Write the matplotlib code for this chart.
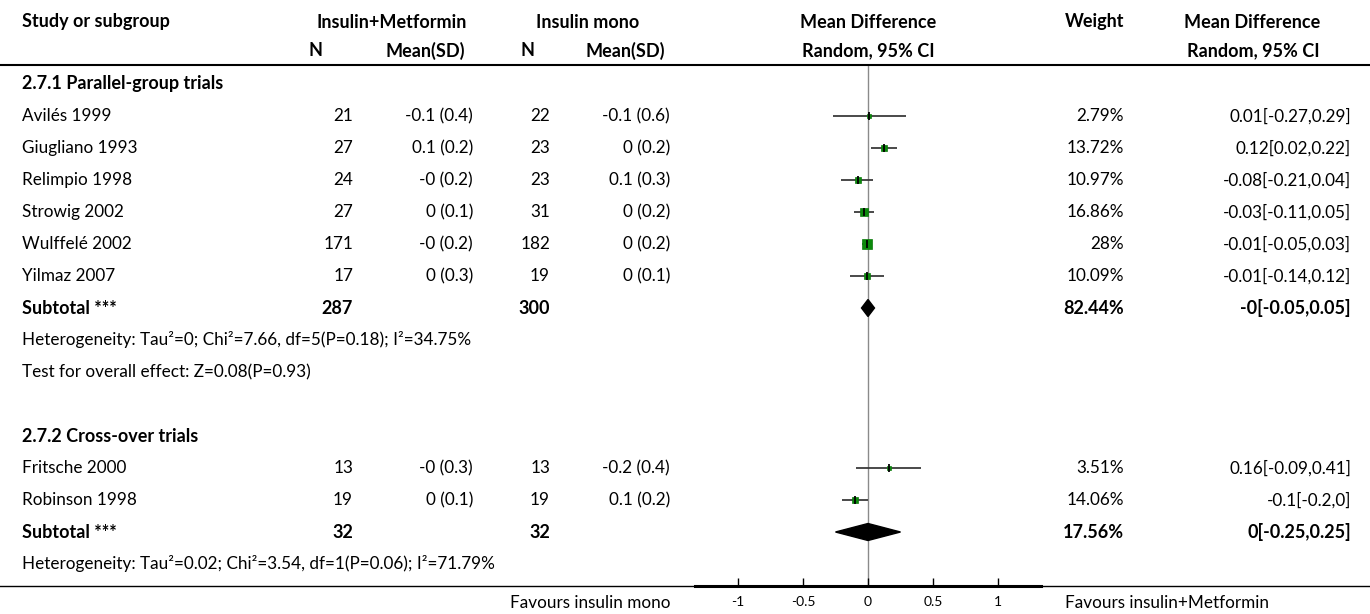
import matplotlib
matplotlib.use("Agg")
import matplotlib.pyplot as plt
from matplotlib.patches import Polygon

plt.rcParams['font.family'] = ['Lato', 'DejaVu Sans']

# ---- data -------------------------------------------------------------
group_titles = ["2.7.1 Parallel-group trials", "2.7.2 Cross-over trials"]

studies_1 = ["Avilés 1999", "Giugliano 1993", "Relimpio 1998", "Strowig 2002",
             "Wulffelé 2002", "Yilmaz 2007"]
n_exp_1 = [21, 27, 24, 27, 171, 17]
mean_exp_1 = ["-0.1 (0.4)", "0.1 (0.2)", "-0 (0.2)", "0 (0.1)", "-0 (0.2)", "0 (0.3)"]
n_ctl_1 = [22, 23, 23, 31, 182, 19]
mean_ctl_1 = ["-0.1 (0.6)", "0 (0.2)", "0.1 (0.3)", "0 (0.2)", "0 (0.2)", "0 (0.1)"]
md_1 = [0.01, 0.12, -0.08, -0.03, -0.01, -0.01]
lo_1 = [-0.27, 0.02, -0.21, -0.11, -0.05, -0.14]
hi_1 = [0.29, 0.22, 0.04, 0.05, 0.03, 0.12]
weight_1 = [2.79, 13.72, 10.97, 16.86, 28, 10.09]
subtotal_1 = [-0.0, -0.05, 0.05]
subtotal_weight_1 = 82.44
subtotal_n_1 = [287, 300]
heterogeneity_1 = "Heterogeneity: Tau²=0; Chi²=7.66, df=5(P=0.18); I²=34.75%"
overall_1 = "Test for overall effect: Z=0.08(P=0.93)"

studies_2 = ["Fritsche 2000", "Robinson 1998"]
n_exp_2 = [13, 19]
mean_exp_2 = ["-0 (0.3)", "0 (0.1)"]
n_ctl_2 = [13, 19]
mean_ctl_2 = ["-0.2 (0.4)", "0.1 (0.2)"]
md_2 = [0.16, -0.1]
lo_2 = [-0.09, -0.2]
hi_2 = [0.41, 0.0]
weight_2 = [3.51, 14.06]
subtotal_2 = [0.0, -0.25, 0.25]
subtotal_weight_2 = 17.56
subtotal_n_2 = [32, 32]
heterogeneity_2 = "Heterogeneity: Tau²=0.02; Chi²=3.54, df=1(P=0.06); I²=71.79%"

tick_values = [-1, -0.5, 0, 0.5, 1]
tick_labels = ["-1", "-0.5", "0", "0.5", "1"]
favours_left = "Favours insulin mono"
favours_right = "Favours insulin+Metformin"

# ---- layout -----------------------------------------------------------
W, H = 1370, 614
FS = 12.3
FS_BOLD = 13.0
X_NAME, X_N1, X_M1, X_N2, X_M2 = 22, 353, 473, 550, 670
X_WEIGHT, X_MD = 1124, 1351
ROW0, STEP = 84, 32
AX_LEFT, AX_RIGHT = 694.7, 1041.3
AX_TOP, AX_BOTTOM = 66, 586
XLIM = 1.3333


def row_y(i):
    return ROW0 + STEP * i


def fmt(v):
    return f"{v:g}"


def ci_label(m, lo, hi):
    return f"{fmt(m)}[{fmt(lo)},{fmt(hi)}]"


fig = plt.figure(figsize=(W / 100, H / 100), dpi=100)
bg = fig.add_axes([0, 0, 1, 1])
bg.set_xlim(0, W)
bg.set_ylim(H, 0)
bg.axis("off")

fp = fig.add_axes([AX_LEFT / W, (H - AX_BOTTOM) / H,
                   (AX_RIGHT - AX_LEFT) / W, (AX_BOTTOM - AX_TOP) / H])
fp.patch.set_alpha(0)
fp.set_xlim(-XLIM, XLIM)
fp.set_ylim(AX_BOTTOM, AX_TOP)


def txt(x, y, s, ha="left", bold=False):
    bg.text(x, y, s, ha=ha, va="center",
            fontsize=FS_BOLD if bold else FS,
            fontweight="bold" if bold else "normal", color="black")


# header
txt(X_NAME, 22, "Study or subgroup", bold=True)
txt(392, 22, "Insulin+Metformin", ha="center", bold=True)
txt(588, 22, "Insulin mono", ha="center", bold=True)
txt(868, 22, "Mean Difference", ha="center", bold=True)
txt(X_WEIGHT, 22, "Weight", ha="right", bold=True)
txt(1320, 22, "Mean Difference", ha="right", bold=True)
txt(316, 51, "N", ha="center", bold=True)
txt(425, 51, "Mean(SD)", ha="center", bold=True)
txt(528, 51, "N", ha="center", bold=True)
txt(625, 51, "Mean(SD)", ha="center", bold=True)
txt(868, 51, "Random, 95% CI", ha="center", bold=True)
txt(1320, 51, "Random, 95% CI", ha="right", bold=True)
bg.plot([0, W], [64.5, 64.5], color="black", lw=1.5, solid_capstyle="butt")


def draw_group(start, title, names, ne, me, nc, mc, md, lo, hi, wt,
               sub, sub_w, sub_n, het, overall):
    txt(X_NAME, row_y(start), title, bold=True)
    r = start + 1
    for k in range(len(names)):
        y = row_y(r)
        txt(X_NAME, y, names[k])
        txt(X_N1, y, str(ne[k]), ha="right")
        txt(X_M1, y, me[k], ha="right")
        txt(X_N2, y, str(nc[k]), ha="right")
        txt(X_M2, y, mc[k], ha="right")
        txt(X_WEIGHT, y, f"{fmt(wt[k])}%", ha="right")
        txt(X_MD, y, ci_label(md[k], lo[k], hi[k]), ha="right")
        fp.hlines(y, lo[k], hi[k], color="#3a3a3a", lw=1.3, zorder=3)
        side_px = 1.85 * wt[k] ** 0.5
        fp.plot([md[k]], [y], marker="s", ms=side_px * 0.72, color="#0b8a0b",
                mec="#0b7a0b", mew=0.5, zorder=4)
        fp.plot([md[k]], [y], marker="|", ms=8 * 0.72, mew=1.3,
                color="black", zorder=5)
        r += 1
    y = row_y(r)
    txt(X_NAME, y, "Subtotal ***", bold=True)
    txt(X_N1, y, str(sub_n[0]), ha="right", bold=True)
    txt(X_N2, y, str(sub_n[1]), ha="right", bold=True)
    txt(X_WEIGHT, y, f"{fmt(sub_w)}%", ha="right", bold=True)
    txt(X_MD, y, ci_label(*sub), ha="right", bold=True)
    m, l, h = sub
    half = 8.5
    fp.add_patch(Polygon([(l, y), (m, y - half), (h, y), (m, y + half)],
                         closed=True, color="black", zorder=4))
    r += 1
    txt(X_NAME, row_y(r), het)
    r += 1
    if overall:
        txt(X_NAME, row_y(r), overall)
        r += 1
    return r


draw_group(0, group_titles[0], studies_1, n_exp_1, mean_exp_1, n_ctl_1,
           mean_ctl_1, md_1, lo_1, hi_1, weight_1, subtotal_1,
           subtotal_weight_1, subtotal_n_1, heterogeneity_1, overall_1)
draw_group(11, group_titles[1], studies_2, n_exp_2, mean_exp_2, n_ctl_2,
           mean_ctl_2, md_2, lo_2, hi_2, weight_2, subtotal_2,
           subtotal_weight_2, subtotal_n_2, heterogeneity_2, None)

# null line and the effect-size axis
fp.axvline(0, color="#8a8a8a", lw=1, zorder=1)
for s in ("left", "right", "top"):
    fp.spines[s].set_visible(False)
fp.spines["bottom"].set_linewidth(2.2)
fp.set_yticks([])
fp.set_xticks(tick_values)
fp.set_xticklabels(tick_labels)
fp.tick_params(axis="x", direction="in", length=6, width=1, labelsize=10,
               pad=7, color="black")
bg.plot([0, W], [AX_BOTTOM, AX_BOTTOM], color="black", lw=1, zorder=0)

txt(671, 603, favours_left, ha="right")
txt(1065, 603, favours_right, ha="left")

fig.savefig("out.png", dpi=100)
